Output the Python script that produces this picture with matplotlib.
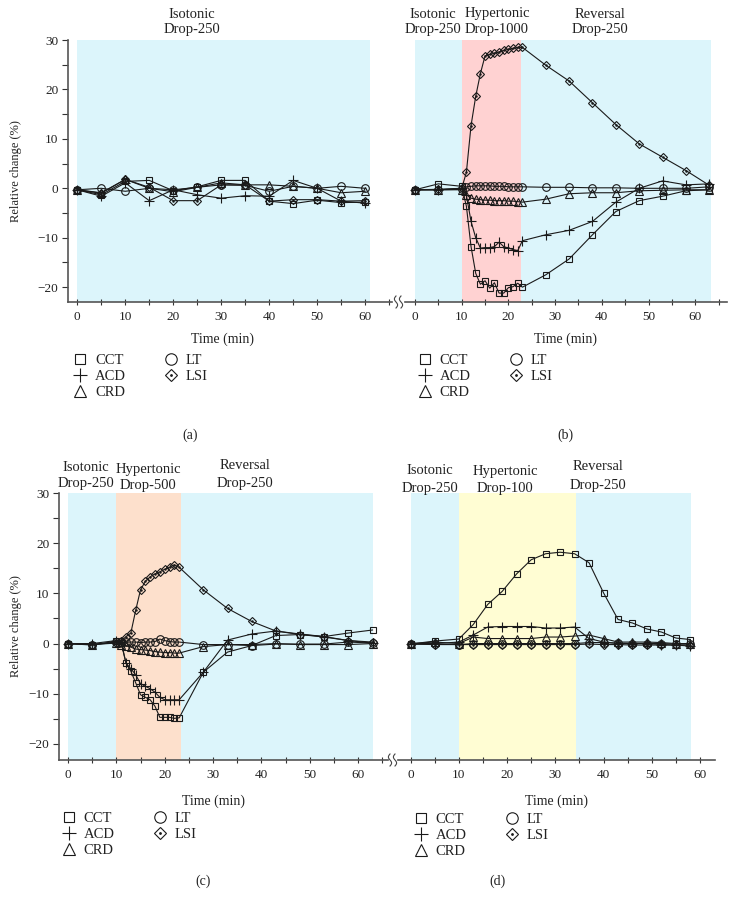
import matplotlib
matplotlib.use('Agg')
import matplotlib.pyplot as plt
from matplotlib.lines import Line2D
import numpy as np

plt.rcParams['font.family'] = ['Liberation Serif', 'DejaVu Serif']

# ---------------- data ----------------
series_names = ['CCT', 'ACD', 'CRD', 'LT', 'LSI']

# panel (a): isotonic drop-250 only
t_a = [0, 5, 10, 15, 20, 25, 30, 35, 40, 45, 50, 55, 60]
a_cct = [-0.3, -1.3, 1.4, 1.6, -0.5, 0.3, 1.6, 1.6, -2.6, -3.1, -2.4, -2.9, -2.8]
a_acd = [-0.3, -1.6, 1.1, -2.5, -0.3, -1.3, -2.0, -1.5, -1.6, 1.6, 0.0, -2.6, -3.0]
a_crd = [-0.3, -0.9, 1.8, 0.0, -0.7, 0.2, 1.1, 0.7, 0.7, 0.4, 0.0, -0.9, -0.6]
a_lt = [-0.3, 0.0, -0.6, 0.0, -0.3, 0.2, 0.7, 0.6, -0.6, 0.4, 0.0, 0.4, 0.0]
a_lsi = [-0.3, -1.0, 1.8, 0.2, -2.5, -2.5, 0.7, 0.7, -2.6, -2.3, -2.3, -2.6, -2.5]

# panel (b): hypertonic drop-1000
t_b = [0, 5, 10, 11, 12, 13, 14, 15, 16, 17, 18, 19, 20, 21, 22, 23,
       28, 33, 38, 43, 48, 53, 58, 63]
b_cct = [-0.3, 0.9, 0.4, -3.6, -11.8, -17.2, -19.4, -18.7, -20.2, -19.1, -21.2, -21.2,
         -20.1, -19.9, -19.2, -20.0, -17.5, -14.3, -9.4, -4.7, -2.5, -1.6, -0.5, -0.3]
b_acd = [-0.3, -0.3, 0.0, -1.4, -6.7, -10.0, -12.1, -12.0, -12.0, -11.8, -10.9, -11.8,
         -12.1, -12.4, -12.6, -10.6, -9.4, -8.5, -6.7, -2.8, 0.0, 1.5, 0.7, 0.9]
b_crd = [-0.3, -0.3, -0.3, -1.3, -2.0, -2.2, -2.3, -2.4, -2.4, -2.5, -2.5, -2.5,
         -2.6, -2.6, -2.7, -2.8, -2.2, -1.1, -0.9, -0.9, -0.5, -0.4, -0.3, -0.3]
b_lt = [-0.3, -0.3, -0.2, 0.3, 0.4, 0.5, 0.5, 0.5, 0.5, 0.4, 0.4, 0.4,
        0.3, 0.3, 0.3, 0.3, 0.2, 0.2, 0.1, 0.1, 0.0, 0.0, 0.0, 0.3]
b_lsi = [-0.3, -0.2, 0.0, 3.2, 12.7, 18.6, 23.2, 26.8, 27.1, 27.3, 27.6, 27.9,
         28.1, 28.3, 28.5, 28.5, 24.9, 21.7, 17.3, 12.9, 9.0, 6.3, 3.6, 0.6]

# panel (c): hypertonic drop-500
t_c = [0, 5, 10, 11, 12, 13, 14, 15, 16, 17, 18, 19, 20, 21, 22, 23,
       28, 33, 38, 43, 48, 53, 58, 63]
c_cct = [0.0, -0.3, 0.5, 0.2, -3.9, -5.5, -7.8, -10.2, -10.7, -11.2, -12.5, -14.7,
         -14.7, -14.7, -14.9, -14.8, -5.7, -1.7, -0.4, 1.6, 1.8, 1.4, 2.1, 2.7]
c_acd = [0.0, 0.0, 0.6, 0.3, -3.9, -5.0, -6.2, -8.0, -8.5, -9.0, -9.7, -10.7,
         -11.2, -11.2, -11.2, -11.2, -5.7, 0.7, 1.9, 2.5, 1.9, 1.4, 0.6, 0.1]
c_crd = [0.0, -0.2, 0.2, -0.2, -0.4, -0.7, -1.1, -1.2, -1.3, -1.4, -1.6, -1.7,
         -1.8, -1.8, -1.9, -1.9, -0.6, -0.2, -0.2, 0.0, -0.2, -0.2, -0.2, 0.0]
c_lt = [0.0, -0.2, 0.3, 0.3, 0.3, 0.3, 0.3, 0.2, 0.3, 0.3, 0.4, 0.9,
        0.6, 0.4, 0.3, 0.3, -0.2, -0.2, -0.4, -0.1, -0.1, -0.1, 0.3, 0.1]
c_lsi = [0.0, -0.2, 0.1, 0.5, 1.4, 2.1, 6.6, 10.7, 12.4, 13.3, 13.9, 14.3,
         14.8, 15.2, 15.7, 15.2, 10.7, 7.0, 4.4, 2.5, 1.8, 1.3, 0.6, 0.3]

# panel (d): hypertonic drop-100
t_d = [0, 5, 10, 13, 16, 19, 22, 25, 28, 31, 34, 37, 40, 43, 46, 49, 52, 55, 58]
d_cct = [-0.1, 0.5, 0.9, 3.8, 7.8, 10.4, 13.9, 16.7, 17.9, 18.2, 17.9, 16.1,
         10.1, 4.8, 4.1, 2.9, 2.3, 1.1, 0.8]
d_acd = [0.0, 0.0, 0.3, 1.7, 3.3, 3.4, 3.4, 3.4, 3.1, 3.1, 3.3, 1.0,
         0.3, 0.0, 0.0, 0.0, -0.2, -0.3, -0.5]
d_crd = [0.0, 0.3, 0.0, 1.3, 1.0, 1.0, 1.0, 1.0, 1.3, 1.3, 1.5, 1.7,
         1.0, 0.3, 0.3, 0.3, 0.2, 0.0, 0.0]
d_lt = [-0.1, -0.1, -0.2, 0.0, 0.0, 0.0, 0.0, 0.0, 0.0, 0.0, 0.0, 0.2,
        0.2, 0.1, 0.0, 0.0, 0.0, -0.1, -0.1]
d_lsi = [-0.1, -0.2, -0.2, -0.2, -0.2, -0.2, -0.2, -0.2, -0.2, -0.2, -0.2, -0.1,
         -0.2, -0.2, -0.3, -0.3, -0.3, -0.3, -0.3]

# phase spans (start, end, colour key)
phases_a = [(0, 61, 'iso')]
phases_b = [(0, 10, 'iso'), (10, 22.7, 'hyper1000'), (22.7, 63.3, 'iso')]
phases_c = [(0, 10, 'iso'), (10, 23.3, 'hyper500'), (23.3, 63.2, 'iso')]
phases_d = [(0, 10, 'iso'), (10, 34.2, 'hyper100'), (34.2, 58.2, 'iso')]

phase_colors = {'iso': '#dcf5fb', 'hyper1000': '#ffd2d2',
                'hyper500': '#fde0cc', 'hyper100': '#fffdd3'}

x_ticks = [0, 10, 20, 30, 40, 50, 60]
y_ticks = [-20, -10, 0, 10, 20, 30]

# ---------------- styling ----------------
W, H = 733, 899
LC = '#1a1a1a'
marker_style = {
    'CCT': dict(marker='s', markersize=5),
    'ACD': dict(marker='+', markersize=7),
    'CRD': dict(marker='^', markersize=5.5),
    'LT': dict(marker='o', markersize=5.5),
    'LSI': dict(marker='D', markersize=4.3),
}


def rect(x0, y0, x1, y1):
    return [x0 / W, 1 - y1 / H, (x1 - x0) / W, (y1 - y0) / H]


fig = plt.figure(figsize=(W / 100, H / 100), dpi=100)

ax_a = fig.add_axes(rect(68, 40, 392, 302))
ax_b = fig.add_axes(rect(405, 40, 727, 302))
ax_c = fig.add_axes(rect(59, 493, 388, 760))
ax_d = fig.add_axes(rect(398, 493, 715, 760))

panels = [
    (ax_a, t_a, [a_cct, a_acd, a_crd, a_lt, a_lsi], phases_a, (-1.94, 65.6), (-23.0, 30), True),
    (ax_b, t_b, [b_cct, b_acd, b_crd, b_lt, b_lsi], phases_b, (-2.14, 66.8), (-23.0, 30), False),
    (ax_c, t_c, [c_cct, c_acd, c_crd, c_lt, c_lsi], phases_c, (-1.86, 66.2), (-23.2, 30), True),
    (ax_d, t_d, [d_cct, d_acd, d_crd, d_lt, d_lsi], phases_d, (-2.6, 63.1), (-23.2, 30), False),
]

for ax, t, ys, phases, xl, yl, left in panels:
    for (s, e, key) in phases:
        ax.axvspan(s, e, color=phase_colors[key], lw=0, zorder=0)
    for name, y in zip(series_names, ys):
        st = marker_style[name]
        ax.plot(t, y, color=LC, lw=0.8, markerfacecolor='none',
                markeredgecolor=LC, markeredgewidth=0.8, zorder=3, **st)
        if name == 'LSI':
            ax.plot(t, y, linestyle='none', marker='.', markersize=1.6,
                    color=LC, zorder=4)
    ax.set_xlim(*xl)
    ax.set_ylim(*yl)
    ax.set_xticks(x_ticks)
    ax.set_xticks(np.arange(5, xl[1], 10), minor=True)
    ax.tick_params(axis='x', which='both', direction='inout', length=5,
                   width=0.8, labelsize=9.5, pad=4, colors='#333333',
                   labelcolor='#222222')
    for sp in ['top', 'right']:
        ax.spines[sp].set_visible(False)
    ax.spines['bottom'].set_color('#555555')
    ax.spines['bottom'].set_linewidth(1.2)
    if left:
        ax.set_yticks(y_ticks)
        ax.set_yticks([-15, -5, 5, 15, 25], minor=True)
        ax.tick_params(axis='y', which='both', direction='out', length=4,
                       width=0.8, labelsize=9.5, pad=3, colors='#333333',
                       labelcolor='#222222')
        ax.spines['left'].set_color('#555555')
        ax.spines['left'].set_linewidth(1.2)
        ax.set_ylabel('Relative change (%)', fontsize=9, color='#222222')
    else:
        ax.spines['left'].set_visible(False)
        ax.set_yticks([])
    ax.set_xlabel('Time (min)', fontsize=10, color='#222222')

ax_a.yaxis.set_label_coords((22 - 68) / 324, 0.5)
ax_c.yaxis.set_label_coords((22 - 59) / 329, 0.5)
ax_a.xaxis.set_label_coords((223 - 68) / 324, -0.115)
ax_b.xaxis.set_label_coords(0.5, -0.115)
ax_c.xaxis.set_label_coords((213 - 59) / 329, -0.13)
ax_d.xaxis.set_label_coords(0.5, -0.13)


# axis break marks
def break_mark(xc, yc):
    yy = np.linspace(-6, 6, 30)
    for dx in (-2.5, 2.5):
        xx = xc + dx + 1.6 * np.sin(yy / 6 * np.pi)
        fig.add_artist(Line2D(xx / W, 1 - (yc + yy) / H, color='#444444', lw=0.8))


break_mark(398.5, 302)
break_mark(392.5, 760)

# headings
head_fs = 10.5
heads = [
    (192, 14, 'Isotonic'), (192, 30, 'Drop-250'),
    (433, 14, 'Isotonic'), (433, 30, 'Drop-250'),
    (497, 14, 'Hypertonic'), (497, 30, 'Drop-1000'),
    (600, 14, 'Reversal'), (600, 30, 'Drop-250'),
    (86, 468, 'Isotonic'), (86, 484, 'Drop-250'),
    (148, 469, 'Hypertonic'), (148, 485, 'Drop-500'),
    (245, 465, 'Reversal'), (245, 484, 'Drop-250'),
    (430, 471, 'Isotonic'), (430, 488, 'Drop-250'),
    (505, 471, 'Hypertonic'), (505, 488, 'Drop-100'),
    (598, 466, 'Reversal'), (598, 485, 'Drop-250'),
]
for x, y, s in heads:
    fig.text(x / W, 1 - y / H, s, ha='center', va='center', fontsize=head_fs,
             color='#222222')

# captions
for x, y, s in [(190, 435, '(a)'), (565, 435, '(b)'), (203, 881, '(c)'), (497, 881, '(d)')]:
    fig.text(x / W, 1 - y / H, s, ha='center', va='center', fontsize=10, color='#222222')

# legends
handles = []
for name in series_names:
    st = marker_style[name]
    h = Line2D([], [], linestyle='none', markerfacecolor='none', markeredgecolor=LC,
               color=LC, markeredgewidth=0.8, **{k: (v * 1.5 if k == 'markersize' else v) for k, v in st.items()})
    if name == 'LSI':
        h = (h, Line2D([], [], linestyle='none', marker='.', markersize=2, color=LC))
    handles.append(h)

for x0, y0 in [(73, 354), (418, 354), (62, 812), (414, 813)]:
    fig.legend(handles, series_names, loc='upper left',
               bbox_to_anchor=(x0 / W, 1 - y0 / H), ncol=2, frameon=False,
               handlelength=1.0, handletextpad=0.5, columnspacing=2.6,
               labelspacing=0.2, borderpad=0, borderaxespad=0, fontsize=10.5,
               labelcolor='#222222')

fig.savefig('out.png', dpi=100)
